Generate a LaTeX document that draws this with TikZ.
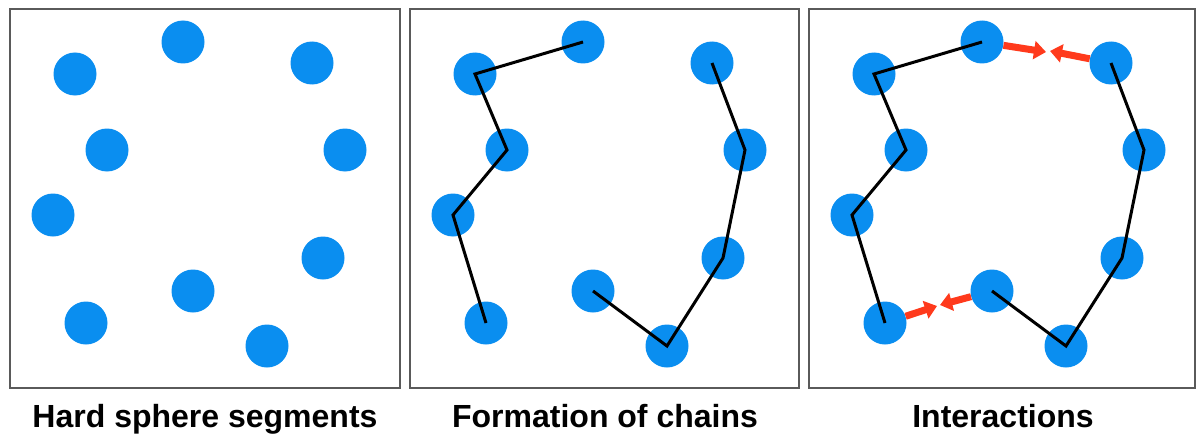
\documentclass[tikz,border=0pt]{standalone}
\usepackage{fontspec}
\setmainfont{Liberation Sans}
\usetikzlibrary{arrows.meta}
\definecolor{ballblue}{HTML}{0A8EF0}
\definecolor{arrred}{HTML}{FF3A1C}
\definecolor{framegray}{HTML}{5A5A5A}
\begin{document}
\begin{tikzpicture}[x=1pt,y=-1pt,
  ball/.style={circle,fill=ballblue,minimum size=43pt,inner sep=0pt},
  frame/.style={draw=framegray,line width=1.5pt},
  bond/.style={line width=3pt,black,line join=miter},
  pull/.style={draw=arrred,line width=7pt,-{Triangle[length=12pt,width=18pt]}},
  caption/.style={anchor=base,font=\bfseries\fontsize{32}{36}\selectfont}]
\useasboundingbox (0,0) rectangle (1196,436);
\draw[frame] (10,9) rectangle (400,388);
\draw[frame] (410,9) rectangle (799,388);
\draw[frame] (809,9) rectangle (1195,388);
\foreach \p/\ox in {a/0,b/400,c/799}{
  \foreach \i/\x/\y in {1/75/74,2/183/42,3/312/63,4/107/150,5/345/150,6/53/215,7/323/258,8/193/291,9/86/323,10/267/346}{
    \node[ball] (\p\i) at (\x+\ox,\y) {};
  }
}
\foreach \p in {b,c}{
  \draw[bond] (\p2.center) -- (\p1.center) -- (\p4.center) -- (\p6.center) -- (\p9.center);
  \draw[bond] (\p3.center) -- (\p5.center) -- (\p7.center) -- (\p10.center) -- (\p8.center);
}
\coordinate (t1) at (1046,52);
\coordinate (t2) at (1050,51);
\coordinate (t3) at (937,306);
\coordinate (t4) at (940,305);
\draw[pull] (c2) -- (t1);
\draw[pull] (c3) -- (t2);
\draw[pull] (c9) -- (t3);
\draw[pull] (c8) -- (t4);
\node[caption] (capa) at (205,427) {Hard sphere segments};
\node[caption] (capb) at (605,427) {Formation of chains};
\node[caption] (capc) at (1003,427) {Interactions};
\end{tikzpicture}
\end{document}
